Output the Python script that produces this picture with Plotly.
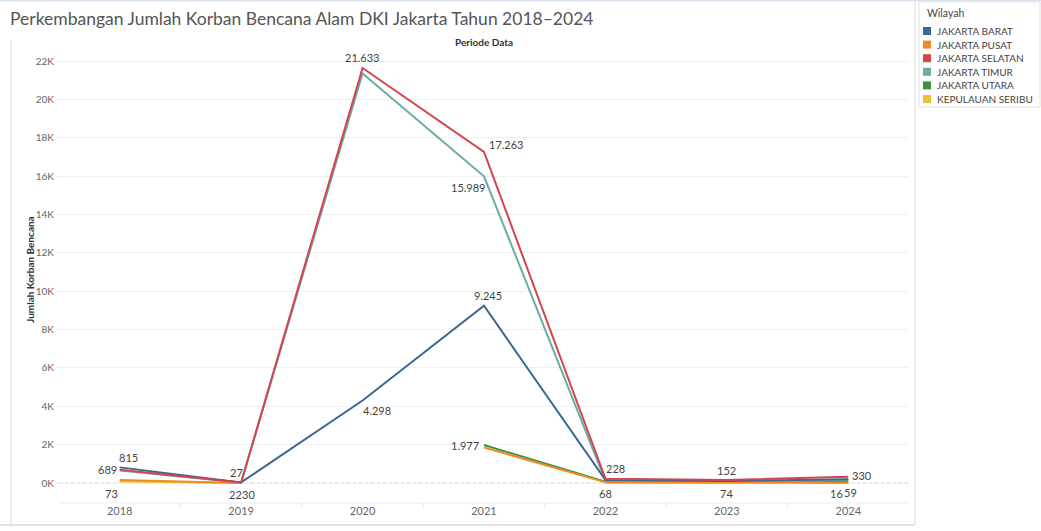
import plotly.graph_objects as go

# ---------------- data ----------------
years = ["2018", "2019", "2020", "2021", "2022", "2023", "2024"]

jakarta_barat = [815, 30, 4298, 9245, 150, 110, 190]
jakarta_pusat = [160, 5, None, 1850, 45, 40, 16]
jakarta_selatan = [689, 27, 21633, 17263, 228, 152, 330]
jakarta_timur = [650, 22, 21350, 15989, 120, 90, 150]
jakarta_utara = [None, None, None, 1977, 68, 74, 59]
kepulauan_seribu = [73, 2, None, None, 5, 3, 4]

series_names = ["JAKARTA BARAT", "JAKARTA PUSAT", "JAKARTA SELATAN",
                "JAKARTA TIMUR", "JAKARTA UTARA", "KEPULAUAN SERIBU"]
series_values = [jakarta_barat, jakarta_pusat, jakarta_selatan,
                 jakarta_timur, jakarta_utara, kepulauan_seribu]
colors = ["#3b6794", "#f08a24", "#d3444c", "#6aaca6", "#3c923c", "#eac23b"]

y_tickvals = [0, 2000, 4000, 6000, 8000, 10000, 12000, 14000, 16000, 18000, 20000, 22000]
y_ticktext = ["0K", "2K", "4K", "6K", "8K", "10K", "12K", "14K", "16K", "18K", "20K", "22K"]

# labels: (series index, year index, xshift, yshift)
labels = [
    (0, 0, 9, 10), (2, 0, -12, 0), (5, 0, -8, -12),
    (2, 1, -5, 10), (3, 1, -6, -12), (0, 1, 7, -12),
    (2, 2, 0, 11), (0, 2, 14, -10),
    (2, 3, 22, 7), (3, 3, -16, -11), (0, 3, 4, 10), (4, 3, -19, 0),
    (2, 4, 10, 10), (4, 4, 0, -12),
    (2, 5, 0, 10), (4, 5, 0, -12),
    (2, 6, 14, 1), (1, 6, -12, -11), (4, 6, 2, -11),
]

# ---------------- figure ----------------
FW, FH = 1041, 531
L, R, T, B = 59, 909, 50, 503
FONT = "Lato, Open Sans, sans-serif"


def px(xp):
    return (xp - L) / (R - L)


def py(yp):
    return (B - yp) / (B - T)


fig = go.Figure()

order = [5, 4, 3, 1, 0, 2]
for i in order:
    fig.add_trace(go.Scatter(
        x=years, y=series_values[i], mode="lines", name=series_names[i],
        line=dict(color=colors[i], width=2), showlegend=False,
        connectgaps=False, hoverinfo="x+y+name"))


def fmt(v):
    return f"{v:,}".replace(",", ".")


annotations = []
for si, yi, xs, ys in labels:
    v = series_values[si][yi]
    annotations.append(dict(
        x=yi, y=v, xref="x", yref="y", text=fmt(v), showarrow=False,
        xanchor="center", yanchor="middle",
        xshift=xs, yshift=ys, font=dict(size=11, color="#444444", family=FONT)))

annotations.append(dict(
    x=0.5, y=py(42), xref="paper", yref="paper", text="<b>Periode Data</b>",
    xanchor="center", yanchor="middle",
    showarrow=False, font=dict(size=10, color="#333333", family=FONT)))
annotations.append(dict(
    x=px(30), y=py(270), xref="paper", yref="paper", text="<b>Jumlah Korban Bencana</b>",
    xanchor="center", yanchor="middle",
    textangle=-90, showarrow=False, font=dict(size=10, color="#333333", family=FONT)))

shapes = [
    # zero line dotted
    dict(type="line", xref="paper", yref="y", x0=0, x1=1, y0=0, y1=0,
         line=dict(color="#c8c8c8", width=1, dash="dot"), layer="below"),
    # pane bottom line
    dict(type="line", xref="paper", yref="paper", x0=0, x1=1, y0=0, y1=0,
         line=dict(color="#eeeeee", width=1)),
    # outer frame lines
    dict(type="line", xref="paper", yref="paper", x0=px(11), x1=px(11),
         y0=py(40), y1=py(525), line=dict(color="#dddddd", width=1)),
    dict(type="line", xref="paper", yref="paper", x0=px(0), x1=px(915),
         y0=py(525), y1=py(525), line=dict(color="#d8d8d8", width=1.5)),
    dict(type="line", xref="paper", yref="paper", x0=px(915), x1=px(915),
         y0=py(0), y1=py(525), line=dict(color="#dddddd", width=1)),
    dict(type="line", xref="paper", yref="paper", x0=px(0), x1=px(1041),
         y0=py(0.5), y1=py(0.5), line=dict(color="#d6e2ee", width=1.5)),
    # legend box
    dict(type="rect", xref="paper", yref="paper", x0=px(919), x1=px(1040),
         y0=py(2), y1=py(107), line=dict(color="#e2e2e2", width=1)),
]

# vertical tick marks between category bands at bottom
for k in range(1, 7):
    shapes.append(dict(type="line", xref="x", yref="paper",
                       x0=k - 0.5, x1=k - 0.5, y0=py(503), y1=py(508),
                       line=dict(color="#e6e6e6", width=1)))

# manual legend (Tableau-style colour squares)
annotations.append(dict(
    x=px(925), y=py(13), xref="paper", yref="paper", text="Wilayah",
    xanchor="left", yanchor="middle", showarrow=False,
    font=dict(size=10.5, color="#444444", family=FONT)))
for i, name in enumerate(series_names):
    yc = 31 + i * 13.6
    shapes.append(dict(type="rect", xref="paper", yref="paper",
                       x0=px(923), x1=px(931), y0=py(yc + 4), y1=py(yc - 4),
                       fillcolor=colors[i], line=dict(width=0)))
    annotations.append(dict(
        x=px(935), y=py(yc), xref="paper", yref="paper", text=name,
        xanchor="left", yanchor="middle", showarrow=False,
        font=dict(size=10, color="#444444", family=FONT)))

fig.update_layout(
    width=FW, height=FH,
    margin=dict(l=L, r=FW - R, t=T, b=FH - B, autoexpand=False),
    paper_bgcolor="white", plot_bgcolor="white",
    separators=",.",
    showlegend=False,
    font=dict(family=FONT, color="#666666", size=11),
    title=dict(text="Perkembangan Jumlah Korban Bencana Alam DKI Jakarta Tahun 2018\u20132024",
               x=10 / FW, xanchor="left", xref="container",
               y=1 - 19 / FH, yanchor="middle", yref="container",
               font=dict(size=17.5, color="#555555", family=FONT)),
    xaxis=dict(type="category", categoryorder="array", categoryarray=years,
               range=[-0.5, 6.5], showgrid=False, zeroline=False, showline=False,
               ticks="", tickfont=dict(size=11, color="#666666")),
    yaxis=dict(range=[-(B - 483) / (422 / 22000), (483 - T) / (422 / 22000)],
               tickvals=y_tickvals, ticktext=y_ticktext,
               showgrid=True, gridcolor="#f0f0f0", gridwidth=1,
               zeroline=False, showline=False,
               ticks="outside", ticklen=2, tickcolor="#e6e6e6",
               tickfont=dict(size=10, color="#666666")),
    annotations=annotations,
    shapes=shapes,
    hovermode="closest",
)

fig.write_html("out.html")
